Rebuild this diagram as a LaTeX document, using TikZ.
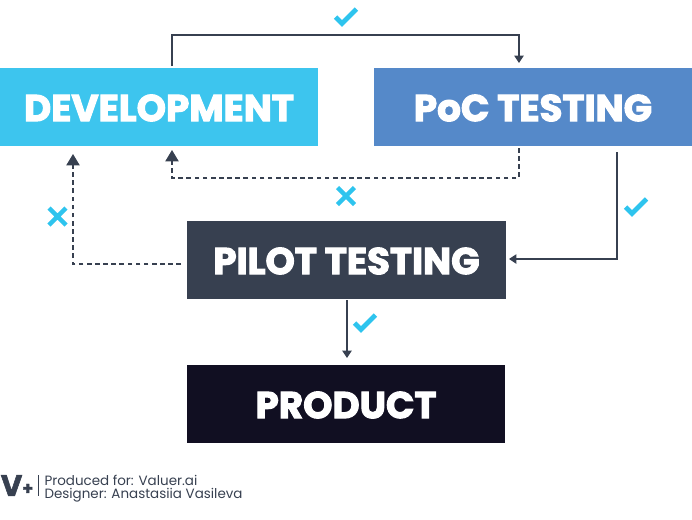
\documentclass[tikz,border=0pt]{standalone}
\usepackage{fontspec}
\setmainfont{Poppins}
\usetikzlibrary{arrows.meta}
\definecolor{devblue}{RGB}{61,197,238}
\definecolor{pocblue}{RGB}{85,137,201}
\definecolor{pilotgrey}{RGB}{55,64,80}
\definecolor{productblack}{RGB}{17,15,34}
\definecolor{markcyan}{RGB}{46,196,238}
\tikzset{every picture/.style={line width=0.75pt}}
\tikzset{
  stagebox/.style={minimum width=239pt,minimum height=58.5pt,inner sep=0pt,text=white,
    text height=21.2pt,text depth=0pt,
    font=\fontsize{28}{30}\selectfont\addfontfeatures{FakeBold=2.8}\bfseries},
  flow/.style={draw=pilotgrey,line width=0.8pt,-{Triangle[length=5.5pt,width=7pt]}},
  flowdash/.style={draw=pilotgrey,line width=0.8pt,dash pattern=on 3.5pt off 2.6pt,-{Triangle[length=8.5pt,width=10pt]}},
  creditline/.style={text=pilotgrey,anchor=west,inner sep=0pt,font=\fontsize{10.1}{12}\selectfont},
  passmark/.pic={\draw[markcyan,line width=3.6pt] (-10.5,-1) -- (-4,-7.5) -- (10.5,7);},
  failmark/.pic={\draw[markcyan,line width=3.4pt] (-8.5,-8.5) -- (8.5,8.5) (-8.5,8.5) -- (8.5,-8.5);}
}
\begin{document}
\begin{tikzpicture}[x=0.75pt,y=0.75pt,yscale=-1,xscale=1]
	\useasboundingbox (0,0) rectangle (692,519);

	% Stage boxes
	\node [stagebox,fill=devblue,minimum width=238.5pt] (dev) at (159,107) {DEVELOPMENT};
	\node [stagebox,fill=pocblue,minimum width=238.5pt] (poc) at (533,107) {PoC TESTING};
	\node [stagebox,fill=pilotgrey] (pilot) at (346.5,260) {PILOT TESTING};
	\node [stagebox,fill=productblack] (product) at (346,404) {PRODUCT};

	% Free ends of the connectors
	\coordinate (devtop) at (172,66);
	\coordinate (pocin) at (519,63);
	\coordinate (pocdash) at (519,148);
	\coordinate (devin) at (172,150);
	\coordinate (pocout) at (617,152);
	\coordinate (pilotin) at (509,259);
	\coordinate (pilotdash) at (181,264);
	\coordinate (devinleft) at (73,154);
	\coordinate (pilotout) at (347,300);
	\coordinate (productin) at (347,358);

	% Connectors
	\draw [flow] (devtop) -- (172,35) -- (519,35) -- (pocin);
	\draw [flowdash] (pocdash) -- (519,178) -- (172,178) -- (devin);
	\draw [flow] (pocout) -- (617,259) -- (pilotin);
	\draw [flowdash] (pilotdash) -- (73,264) -- (devinleft);
	\draw [flow] (pilotout) -- (productin);

	% Marks
	\pic at (346,16) {passmark};
	\pic at (636,206) {passmark};
	\pic at (365,322) {passmark};
	\pic at (346,196) {failmark};
	\pic at (57.5,216.5) {failmark};

	% Credit
	\node [text=pilotgrey,inner sep=0pt,font=\fontsize{22}{24}\selectfont\addfontfeatures{FakeBold=2}\bfseries] (logo) at (17,485.5) {V\raisebox{1pt}{\fontsize{13}{14}\selectfont +}};
	\draw [pilotgrey,line width=0.6pt] (38,475) -- (38,496);
	\node [creditline] (producedfor) at (44,480.5) {Produced for: Valuer.ai};
	\node [creditline] (designer) at (44,495.5) {Designer: Anastasiia Vasileva};
\end{tikzpicture}
\end{document}
